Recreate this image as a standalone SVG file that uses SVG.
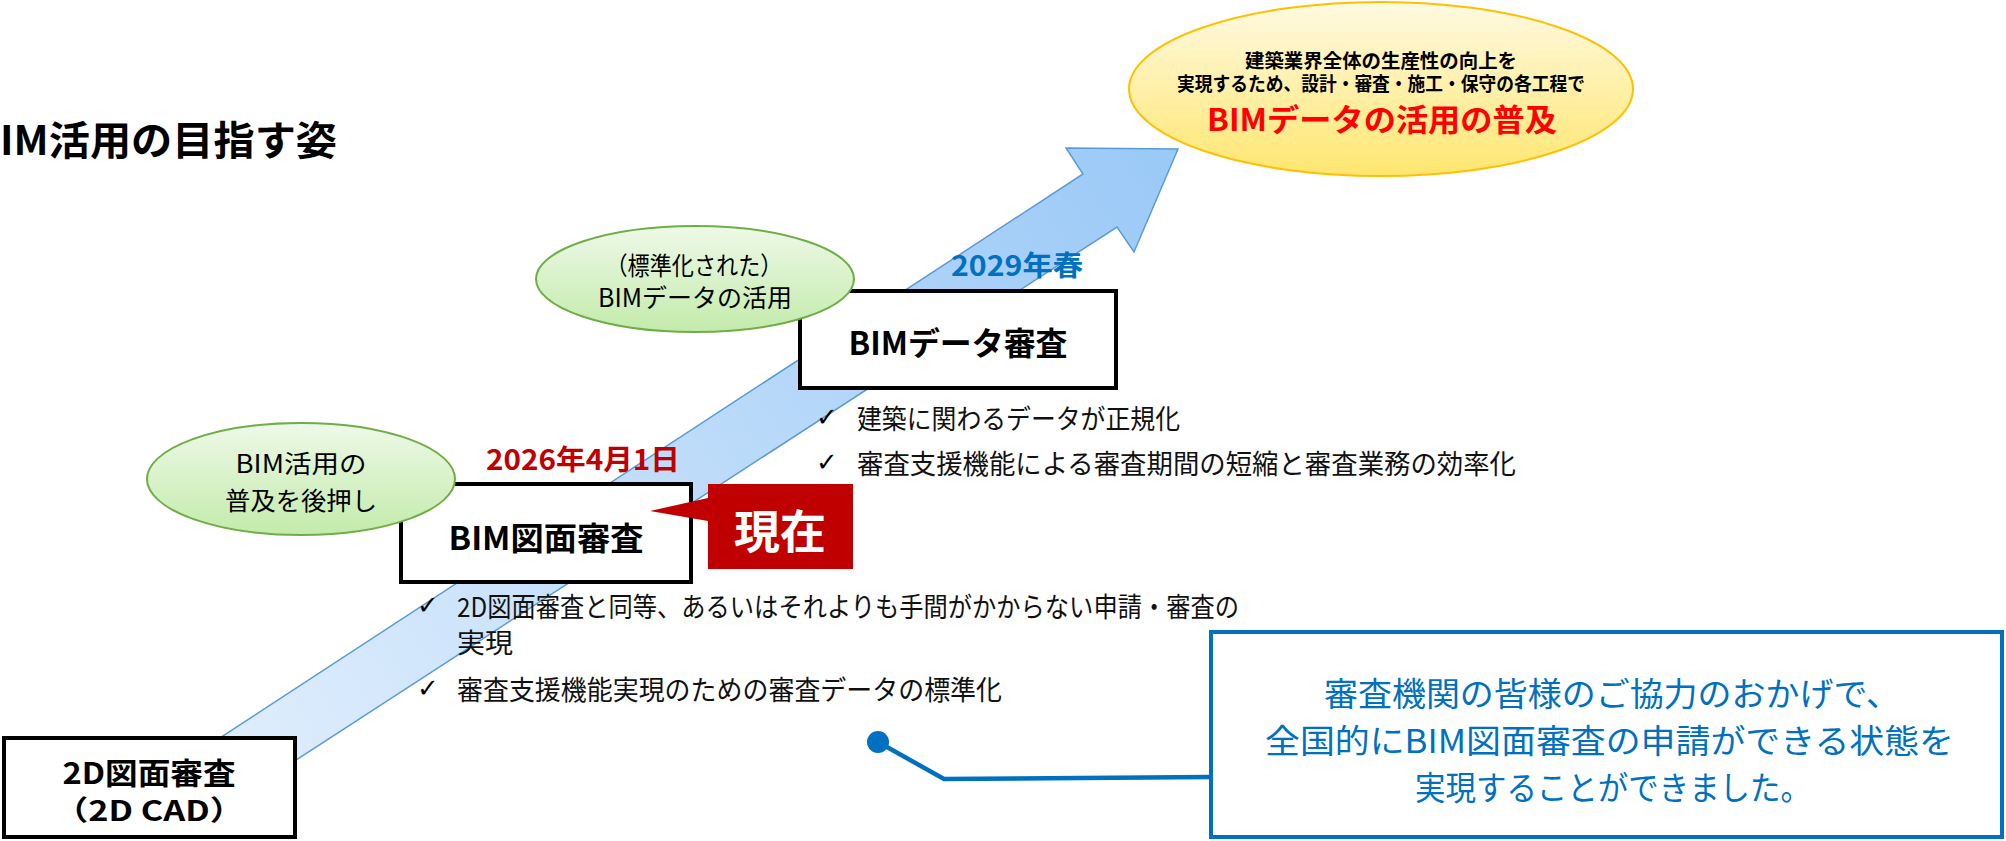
<svg xmlns="http://www.w3.org/2000/svg" width="2006" height="841" viewBox="0 0 2006 841">
<style>
text{font-family:"Noto Sans CJK JP","Noto Sans",sans-serif;dominant-baseline:central}
.b{font-weight:700}
.box{fill:#ffffff;stroke:#000000;stroke-width:4}
.green{fill:url(#gGreen);stroke:#70AD47;stroke-width:2}
.chk{font-family:"DejaVu Sans",sans-serif;font-size:26px;fill:#000}
.bul{font-size:27px;fill:#111}
.blue{fill:#0070C0;font-size:33px}
</style>
<defs>
<linearGradient id="gArrow" gradientUnits="userSpaceOnUse" x1="200" y1="800" x2="1150" y2="170">
<stop offset="0" stop-color="#E2EFFD"/>
<stop offset="1" stop-color="#9CCAF7"/>
</linearGradient>
<linearGradient id="gGreen" x1="0" y1="0" x2="0" y2="1">
<stop offset="0" stop-color="#EEF9E8"/>
<stop offset="1" stop-color="#C3EBAB"/>
</linearGradient>
<linearGradient id="gYellow" x1="0" y1="0" x2="0" y2="1">
<stop offset="0" stop-color="#FFFAE2"/>
<stop offset="1" stop-color="#FFE670"/>
</linearGradient>
</defs>
<rect width="2006" height="841" fill="#ffffff"/>

<g id="title">
<text class="b" x="0" y="138" font-size="40" textLength="337" lengthAdjust="spacingAndGlyphs">IM活用の目指す姿</text>
</g>

<g id="connectors">
<polygon id="progress-arrow" points="180,764 1083,174 1066,148 1178,149 1134,252 1117,227 213,814" fill="url(#gArrow)" stroke="#5B9BD5" stroke-width="1.5" stroke-linejoin="miter"/>
<circle cx="878" cy="742" r="11" fill="#0070C0"/>
<polyline points="878,742 944,779 1211,777" fill="none" stroke="#0070C0" stroke-width="4.5"/>
</g>

<g id="node-2d">
<rect class="box" x="4" y="738" width="291" height="99"/>
<text class="b" x="149" y="771" font-size="30" text-anchor="middle" textLength="173" lengthAdjust="spacingAndGlyphs">2D図面審査</text>
<text class="b" x="149" y="809" font-size="28" text-anchor="middle" textLength="190" lengthAdjust="spacingAndGlyphs">（2D CAD）</text>
</g>

<g id="node-bim-drawing">
<rect class="box" x="401" y="484" width="290" height="98"/>
<text class="b" x="546" y="536" font-size="32" text-anchor="middle" textLength="195" lengthAdjust="spacingAndGlyphs">BIM図面審査</text>
</g>

<g id="date-2026">
<text class="b" x="486" y="458" font-size="28" fill="#C00000" textLength="194" lengthAdjust="spacingAndGlyphs">2026年4月1日</text>
</g>

<g id="node-now">
<polygon points="650,511 708,498 708,521" fill="#C00000"/>
<rect x="708" y="484" width="145" height="85" fill="#C00000"/>
<text class="b" x="780" y="528" font-size="46" fill="#ffffff" text-anchor="middle" textLength="92" lengthAdjust="spacingAndGlyphs">現在</text>
</g>

<g id="node-bim-push">
<ellipse class="green" cx="301" cy="479" rx="154" ry="56"/>
<text x="301" y="462" font-size="25" text-anchor="middle" textLength="131" lengthAdjust="spacingAndGlyphs">BIM活用の</text>
<text x="301" y="499" font-size="25" text-anchor="middle" textLength="152" lengthAdjust="spacingAndGlyphs">普及を後押し</text>
</g>

<g id="bullets-bim-drawing">
<text class="chk" x="428" y="605" text-anchor="middle">✓</text>
<text class="bul" x="457" y="605" textLength="782" lengthAdjust="spacingAndGlyphs">2D図面審査と同等、あるいはそれよりも手間がかからない申請・審査の</text>
<text class="bul" x="457" y="641" textLength="56" lengthAdjust="spacingAndGlyphs">実現</text>
<text class="chk" x="428" y="688" text-anchor="middle">✓</text>
<text class="bul" x="457" y="688" textLength="545" lengthAdjust="spacingAndGlyphs">審査支援機能実現のための審査データの標準化</text>
</g>

<g id="date-2029">
<text class="b" x="951" y="264" font-size="28" fill="#0070C0" textLength="132" lengthAdjust="spacingAndGlyphs">2029年春</text>
</g>

<g id="node-bim-data">
<rect class="box" x="800" y="291" width="316" height="97"/>
<text class="b" x="958" y="341" font-size="32" text-anchor="middle" textLength="219" lengthAdjust="spacingAndGlyphs">BIMデータ審査</text>
</g>

<g id="node-standard">
<ellipse class="green" cx="695" cy="279" rx="159" ry="53"/>
<text x="694" y="264" font-size="25" text-anchor="middle" textLength="177" lengthAdjust="spacingAndGlyphs">（標準化された）</text>
<text x="695" y="296" font-size="25" text-anchor="middle" textLength="194" lengthAdjust="spacingAndGlyphs">BIMデータの活用</text>
</g>

<g id="bullets-bim-data">
<text class="chk" x="827" y="417" text-anchor="middle">✓</text>
<text class="bul" x="857" y="417" textLength="323" lengthAdjust="spacingAndGlyphs">建築に関わるデータが正規化</text>
<text class="chk" x="827" y="462" text-anchor="middle">✓</text>
<text class="bul" x="857" y="462" textLength="659" lengthAdjust="spacingAndGlyphs">審査支援機能による審査期間の短縮と審査業務の効率化</text>
</g>

<g id="node-goal">
<ellipse cx="1381" cy="89" rx="252" ry="87" fill="url(#gYellow)" stroke="#FFC000" stroke-width="2"/>
<text class="b" x="1381" y="59" font-size="19" text-anchor="middle" textLength="272" lengthAdjust="spacingAndGlyphs">建築業界全体の生産性の向上を</text>
<text class="b" x="1381" y="82" font-size="19" text-anchor="middle" textLength="408" lengthAdjust="spacingAndGlyphs">実現するため、設計・審査・施工・保守の各工程で</text>
<text class="b" x="1382" y="117" font-size="31" fill="#FF0000" text-anchor="middle" textLength="350" lengthAdjust="spacingAndGlyphs">BIMデータの活用の普及</text>
</g>

<g id="node-message">
<rect x="1211" y="632" width="791" height="205" fill="#ffffff" stroke="#0070C0" stroke-width="4"/>
<text class="blue" x="1324" y="692" textLength="576" lengthAdjust="spacingAndGlyphs">審査機関の皆様のご協力のおかげで、</text>
<text class="blue" x="1265" y="739" textLength="689" lengthAdjust="spacingAndGlyphs">全国的にBIM図面審査の申請ができる状態を</text>
<text class="blue" x="1415" y="786" textLength="396" lengthAdjust="spacingAndGlyphs">実現することができました。</text>
</g>
</svg>
